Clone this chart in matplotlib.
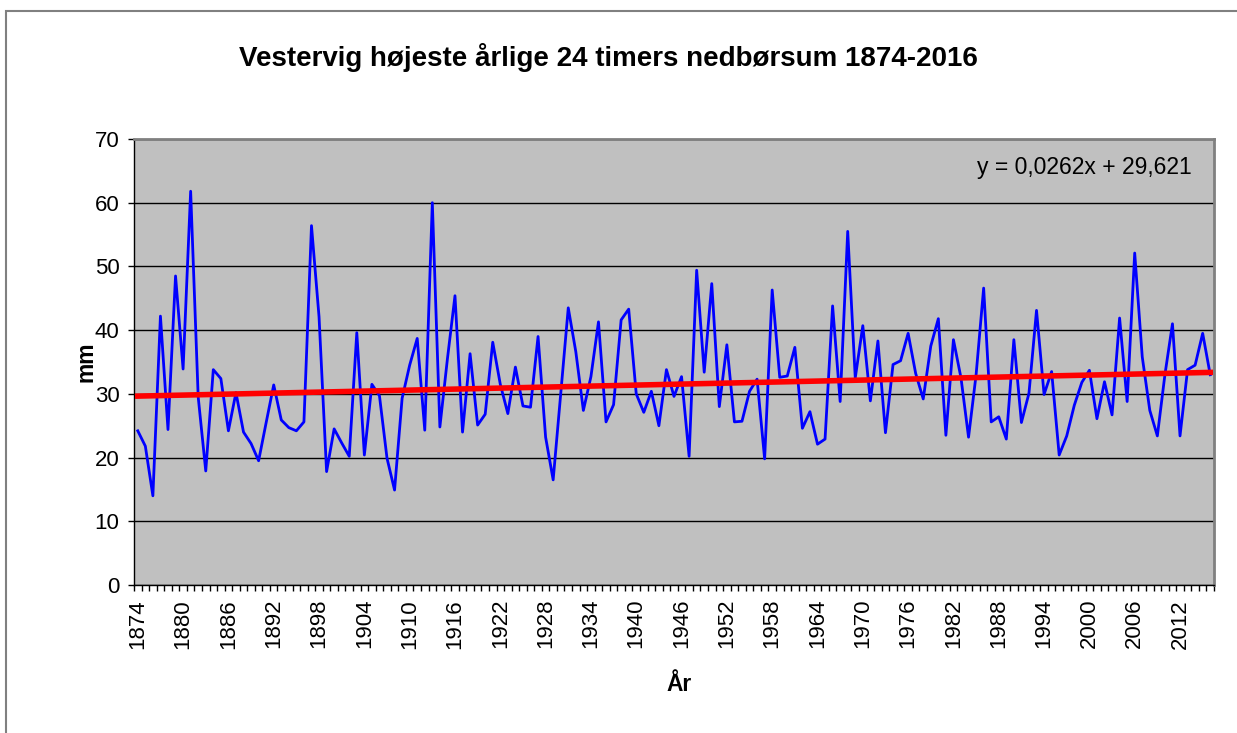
import numpy as np
import matplotlib.pyplot as plt
from matplotlib.patches import Rectangle

plt.rcParams['font.family'] = ['Liberation Sans', 'DejaVu Sans']

years = list(range(1874, 2017))
nedbor = [
    24.2, 21.8, 14.0, 42.2, 24.4, 48.5, 33.9, 61.8, 29.5, 17.9,
    33.8, 32.4, 24.2, 30.2, 24.0, 22.2, 19.5, 25.5, 31.4, 25.9,
    24.7, 24.2, 25.6, 56.4, 42.1, 17.8, 24.5, 22.3, 20.2, 39.6,
    20.4, 31.5, 29.7, 19.9, 14.9, 29.3, 34.5, 38.7, 24.3, 60.0,
    24.8, 35.5, 45.4, 24.0, 36.3, 25.1, 26.8, 38.1, 31.5, 26.9,
    34.2, 28.1, 27.9, 39.0, 23.2, 16.5, 30.0, 43.5, 36.6, 27.4,
    32.7, 41.3, 25.6, 28.3, 41.6, 43.3, 30.0, 27.1, 30.4, 25.0,
    33.8, 29.6, 32.7, 20.2, 49.4, 33.4, 47.3, 28.0, 37.7, 25.6,
    25.7, 30.4, 32.3, 19.8, 46.3, 32.6, 32.8, 37.3, 24.6, 27.2,
    22.1, 22.9, 43.8, 28.8, 55.5, 32.5, 40.7, 28.9, 38.3, 23.9,
    34.6, 35.2, 39.5, 33.2, 29.2, 37.5, 41.8, 23.5, 38.5, 32.5,
    23.2, 33.0, 46.6, 25.6, 26.4, 22.9, 38.5, 25.5, 30.1, 43.1,
    29.9, 33.5, 20.4, 23.4, 28.2, 31.8, 33.7, 26.1, 31.9, 26.7,
    41.9, 28.8, 52.1, 35.8, 27.4, 23.4, 33.0, 41.0, 23.4, 33.8,
    34.5, 39.5, 33.0,
]
trend_slope = 0.0262
trend_intercept = 29.621
y_ticks = [0, 10, 20, 30, 40, 50, 60, 70]

idx = np.arange(len(years))
x_num = idx + 1  # Excel trendline x = 1..n
trend = trend_slope * x_num + trend_intercept

fig = plt.figure(figsize=(12.37, 7.33), dpi=100)
fig.patches.append(Rectangle((6 / 1237, -0.1), 1.2, 1 - 11 / 733 + 0.1,
                             transform=fig.transFigure, fill=False,
                             edgecolor='#808080', linewidth=1.5))

ax = fig.add_axes([134 / 1237, 1 - 585 / 733, (1214 - 134) / 1237, (585 - 139) / 733])
ax.set_facecolor('#C0C0C0')

ax.plot(idx, nedbor, color='#0000FF', linewidth=2, zorder=3)
ax.plot(idx, trend, color='#FF0000', linewidth=4, zorder=4)

ax.set_xlim(-0.5, len(years) - 0.5)
ax.set_ylim(0, 70)
ax.set_yticks(y_ticks)
ax.grid(axis='y', color='black', linewidth=1)
ax.set_axisbelow(True)

ax.set_xticks(np.arange(-0.5, len(years), 1), minor=True)
ax.set_xticks(idx[::6])
ax.set_xticklabels([str(y) for y in years[::6]], rotation=90, fontsize=16)
ax.tick_params(axis='x', which='major', length=0, pad=10)
ax.tick_params(axis='x', which='minor', length=4, width=1, color='black', direction='out')
ax.tick_params(axis='y', length=4.5, width=1, direction='out', labelsize=16, pad=6)

for s in ['top', 'right']:
    ax.spines[s].set_color('#808080')
    ax.spines[s].set_linewidth(2)
for s in ['left', 'bottom']:
    ax.spines[s].set_color('black')
    ax.spines[s].set_linewidth(1)

ax.set_ylabel('mm', fontsize=16.5, fontweight='bold')
ax.yaxis.set_label_coords(-0.034, 0.5)
ax.set_xlabel('År', fontsize=16.5, fontweight='bold')
ax.xaxis.set_label_coords(0.505, -0.197)

ax.text(0.88, 0.935, 'y = 0,0262x + 29,621', transform=ax.transAxes,
        ha='center', va='center', fontsize=16.5)

fig.text(608 / 1237, 1 - 57 / 733, 'Vestervig højeste årlige 24 timers nedbørsum 1874-2016',
         ha='center', va='center', fontsize=20, fontweight='bold')

fig.savefig('out.png', dpi=100)
